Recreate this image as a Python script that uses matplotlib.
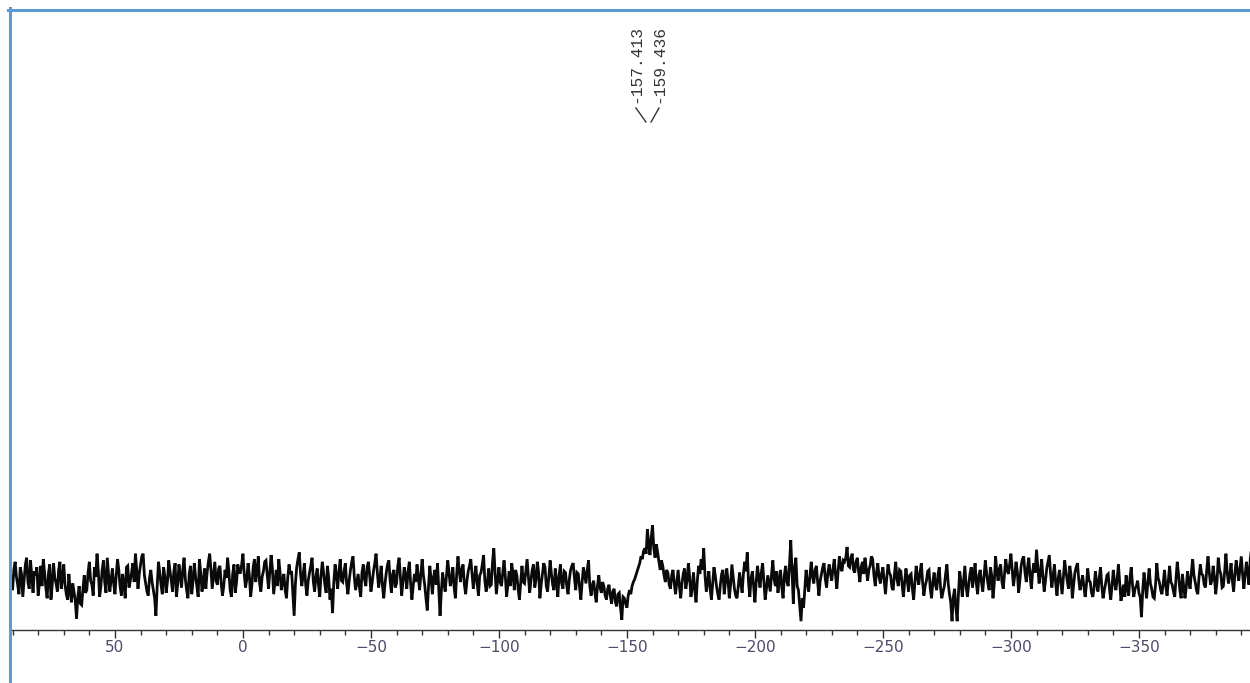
import matplotlib
matplotlib.use("Agg")
import matplotlib.pyplot as plt
from matplotlib.lines import Line2D
from matplotlib.ticker import MultipleLocator
import numpy as np

#### DATA ####
# chemical shift range of the trace (ppm), two values per ppm
X_START = 91
X_END = -398.5

# intensity (arbitrary units), baseline = 0
intensity = [
    4, -3, -9, 6, 12, 1, -5, -12, 8, 3, -14, -2, 10, 15, -3, -8, 13, 2, -11, 5,
    2, 8, -13, -4, 9, -6, 14, 4, -7, -15, 3, 10, -16, -5, 11, 0, -4, -10, 6, 12,
    -8, -1, 10, -5, -12, -16, 3, -9, -18, -4, -10, -17, -30, -14, -6, -19, -20, -8, 2, -11,
    -9, 4, 12, -2, -5, -13, 8, 1, 18, 5, -14, -6, 6, 13, -3, -11, 15, 3, -10, -1,
    7, -4, -12, 2, 14, 6, -6, -13, 3, -5, -15, 8, 9, -7, -2, 4, 11, -3, 18, 6,
    -8, 3, 10, 16, 18, 2, -4, -10, -13, 0, 6, -3, -9, -15, -28, -6, 12, 4, -5, -12,
    8, 1, -11, -3, 13, 5, -2, -10, 5, 11, -14, -5, 10, 2, -7, 6, 15, -1, -9, -15,
    3, 9, -12, -2, 11, 1, -6, -14, 14, 4, -10, -3, 7, -8, 4, 12, 18, 6, -8, 2,
    12, -2, -5, 7, 9, -4, -13, -6, 6, 0, 15, 5, -9, -14, 3, 10, -11, -3, 10, 4,
    4, 10, 18, 3, -7, -1, 11, 2, -14, -5, 8, 14, -3, 6, 16, -4, -10, 1, 5, 12,
    13, 2, -8, 5, 17, 7, -12, -3, 6, -6, 14, 4, -9, -2, 3, -9, -15, 0, 10, 3,
    5, -12, -28, -4, 8, 14, 19, 3, -6, 2, 11, -5, -13, -2, 4, 9, 15, -3, -10, 1,
    7, -5, -14, 2, 12, 4, -5, -11, 9, 0, -16, -8, -26, -3, 10, 2, -8, 5, 14, -2,
    -3, 5, 11, -4, -12, -2, 6, 12, 16, 1, -9, -3, 3, -7, -14, 4, 10, -1, -6, 8,
    12, 2, -10, -3, 5, 11, 18, 4, -7, 0, 9, -6, -15, -4, 4, 10, 13, -2, -11, 3,
    6, -7, -4, 9, 15, 1, -13, -3, 8, 2, -8, 5, 12, -4, -16, -6, 3, -3, 10, 1,
    -9, 3, 14, 2, -5, -15, -24, -6, 9, -1, -12, 1, 6, -5, 11, -8, -28, -10, 4, -4,
    -10, 2, 13, 4, -6, -1, 8, -7, -15, 3, 16, 5, -3, 7, 10, -5, -12, -2, 5, 9,
    14, 3, -8, 1, 9, -4, -13, 2, 4, 10, 17, -2, -10, -3, 7, -6, -5, 12, 22, 4,
    -12, -2, 8, -3, -6, 4, 13, 1, -14, -5, 5, -6, 11, 3, -9, 6, 2, -8, -16, -3,
    9, -3, -4, 5, 14, 2, -11, -2, 6, 10, -7, -1, 12, 4, -15, -5, 3, 11, 8, -6,
    -10, 1, 13, 3, -5, -9, 7, -2, -14, 2, 10, -4, -8, 5, 4, -6, -12, -1, 6, 9,
    11, 0, -9, 4, 3, -7, -16, -3, 8, 2, -4, 6, 13, -6, -13, -5, -2, -11, -18, -6,
    2, -7, -11, -3, -6, -13, -16, -8, -5, -13, -19, -10, -8, -18, -21, -12, -11, -22, -31, -14,
    -15, -19, -22, -13, -9, -12, -6, -3, -1, 2, 5, 8, 11, 16, 14, 20, 22, 18, 36, 25,
    17, 30, 39, 22, 15, 25, 19, 12, 6, 13, 9, 2, -3, 6, 4, -5, -8, 2, 6, -4,
    -12, -3, 6, -6, -15, -4, 3, 7, -8, -2, 11, 1, -14, -7, 4, -9, -18, -2, 9, 3,
    14, 6, 22, 2, -10, -3, 5, -8, -16, -4, 8, 2, -6, -12, -16, -5, 3, 6, -12, -3,
    7, -2, -15, -5, 10, 1, -8, -13, -15, -6, 4, -4, -11, 3, 12, 5, 19, -3, -14, 0,
    5, -6, -18, -3, 9, 0, -7, 4, 11, -2, -16, -8, 2, -4, -10, 3, 13, -1, -6, 5,
    -11, -2, 6, -7, -15, 2, 9, -3, -6, 10, 28, 4, -19, 8, 15, -6, -9, -21, -32, -15,
    -22, -8, 6, -4, -10, 2, 12, 1, -4, 6, 9, -3, -13, -2, 3, 8, 11, -1, -7, 4,
    10, 3, -2, 7, 14, 2, -8, 5, 16, 8, 5, 13, 12, 15, 23, 9, 8, 15, 18, 6,
    4, 12, 15, 5, -3, 8, 12, 3, 15, 7, -2, 6, 9, 16, 14, 2, -6, 4, 11, 1,
    -4, 3, 8, -2, -12, 0, 10, 4, 2, -7, -9, 3, 12, -1, -6, 6, 5, -5, -14, -3,
    7, -1, -10, 2, 3, -8, -16, -4, 9, 1, -5, 4, 11, -3, -13, -6, -2, 5, 6, -8,
    -15, -3, 4, -5, -9, 2, 8, -7, -15, -10, -6, 3, 10, -4, -12, -18, -32, -14, -8, -22,
    -32, -12, 5, -3, -14, -2, 9, -6, -14, -5, 3, 8, -7, 1, 11, -4, -12, 2, 6, -3,
    -10, 1, 13, 4, -4, -9, 8, 2, -15, -4, 16, 5, -2, 7, 10, -3, -8, 3, 14, 6,
    3, 10, 18, 6, -6, 2, 12, 5, -11, -2, 9, 14, 16, 4, -3, 8, 15, 1, -8, 5,
    11, 4, 21, 9, -4, 3, 14, 1, -10, -2, 7, 12, 17, 3, -7, 2, 10, -4, -13, 0,
    6, -3, -12, 0, 13, 5, -2, -8, 9, 2, -15, -5, 4, 8, 11, -1, -9, -4, 2, -6,
    -14, -5, 7, -2, -3, -11, -14, -7, 5, -4, -10, 0, 8, -6, -15, -9, -4, 2, 3, -8,
    -16, -6, 6, -3, -9, -1, 10, -4, -17, -10, -5, -14, 2, -7, -13, 0, 8, -5, -14, -8,
    -6, -2, -11, -14, -29, -9, 4, -6, -15, -3, 7, -4, -8, -14, -15, -5, 11, 0, -3, -9,
    -12, -4, 6, -6, -13, -2, 9, -3, -5, -10, -14, 0, 12, 2, -9, -15, 3, -6, -15, -7,
    5, -3, -8, 4, 14, 2, -3, -9, -12, 1, 10, 3, 2, -5, -7, 6, 16, 4, -5, -2,
    9, 1, -12, -3, 15, 6, 3, -7, -6, 5, 18, 4, -4, 2, 11, -2, -10, 3, 13, 5,
    -2, 7, 16, 3, -8, 2, 12, 4, -5, 14, 22, 10, 15, 6, 4, 12, 14, 2, -3, 8,
]

peak_labels = [-157.413, -159.436]

#### FIGURE ####
W, H, DPI = 1250, 683, 100
PX = 1.35  # pixels per intensity unit
fig = plt.figure(figsize=(W / DPI, H / DPI), dpi=DPI)
fig.set_facecolor("white")

# plot area in pixels: x 10..1250, y 10..630, baseline at y=578
ax = fig.add_axes([10 / W, (H - 630) / H, 1240 / W, 620 / H])

x = np.linspace(X_START, X_END, len(intensity))
ax.plot(x, intensity, color="#0a0a0a", lw=2.0, solid_joinstyle="miter")

ax.set_xlim(91.0, -393.4)
ax.set_ylim(-(630 - 578) / PX, (578 - 10) / PX)

for s in ["top", "right", "left"]:
    ax.spines[s].set_visible(False)
ax.spines["bottom"].set_color("#333333")
ax.spines["bottom"].set_linewidth(1.0)
ax.set_yticks([])
ax.xaxis.set_major_locator(MultipleLocator(50))
ax.xaxis.set_minor_locator(MultipleLocator(10))
ax.tick_params(axis="x", which="major", length=6, width=1, color="#333333",
               labelsize=11, labelcolor="#4b4b6b", pad=1.5)
ax.tick_params(axis="x", which="minor", length=3.5, width=1, color="#333333")

# peak labels with connectors
center = np.mean(peak_labels) + 0.4
label_x = [center + 4.5, center - 4.5]
for lx, p in zip(label_x, peak_labels):
    ax.text(lx, (578 - 25) / PX, f"{p:.3f}", rotation=90, ha="center", va="top",
            family="Liberation Mono", fontsize=11.7, color="#333333")
    ax.plot([lx, p], [(578 - 108) / PX, (578 - 122) / PX], color="#333333", lw=1.0)

# blue frame on the left and top
blue = "#5b9bd5"
fig.add_artist(Line2D([8 / W, 1], [1 - 9.5 / H, 1 - 9.5 / H], color=blue, lw=2.2,
                      transform=fig.transFigure))
fig.add_artist(Line2D([9.5 / W, 9.5 / W], [0, 1 - 8 / H], color=blue, lw=2.2,
                      transform=fig.transFigure))

fig.savefig("out.png", dpi=DPI)
